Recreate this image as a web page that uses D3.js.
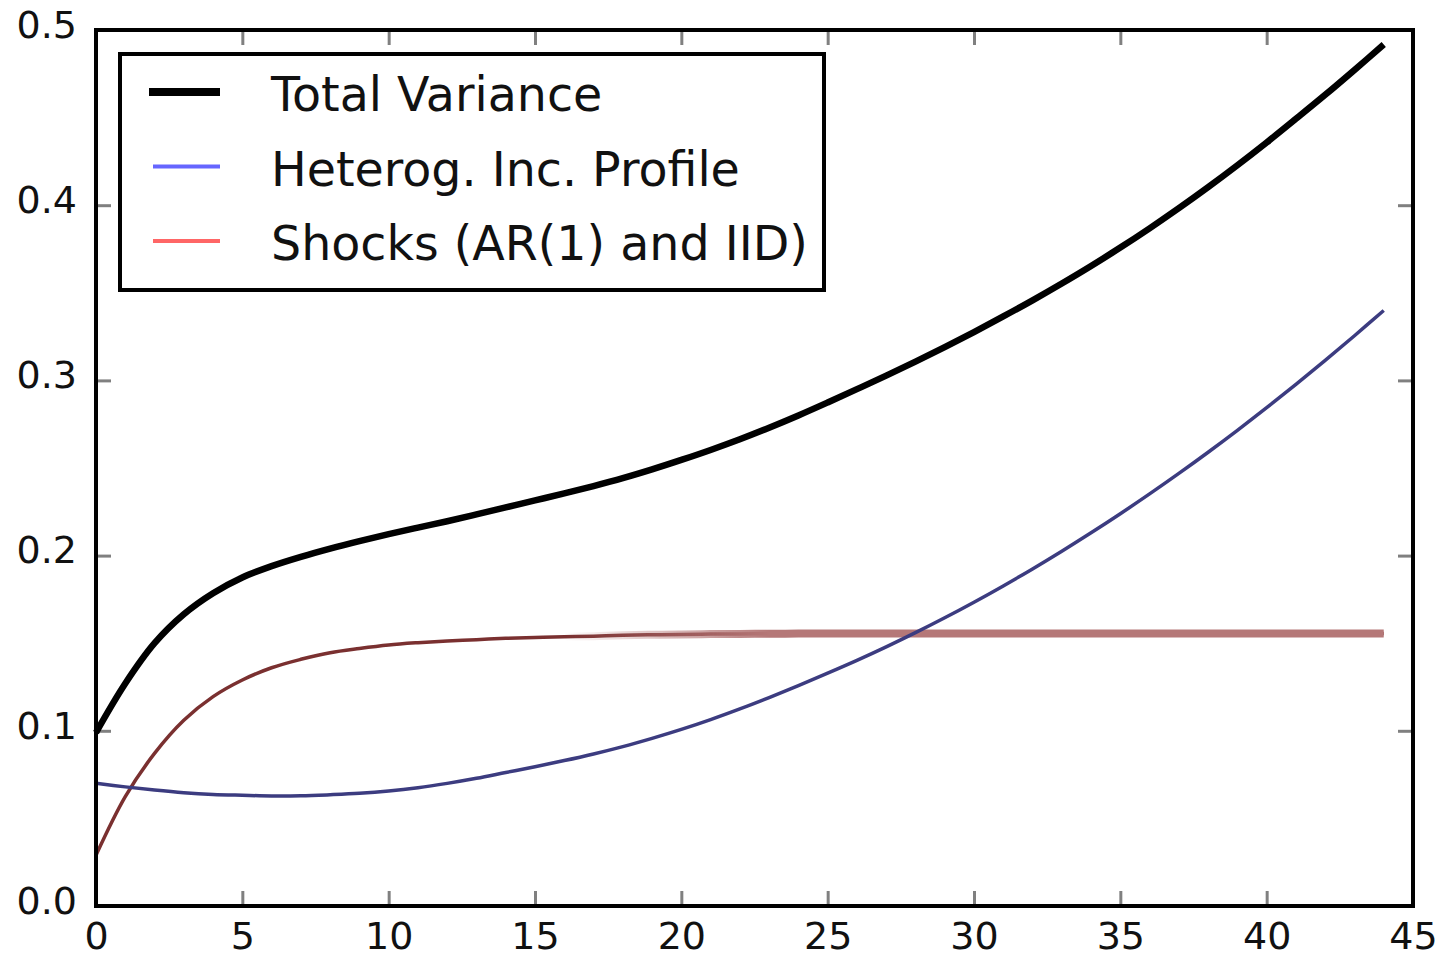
<!DOCTYPE html>
<html>
<head>
<meta charset="utf-8">
<script src="https://cdn.jsdelivr.net/npm/d3@7/dist/d3.min.js"></script>
<style>
  body { margin: 0; background: #fff; }
  svg { display: block; font-family: "DejaVu Sans", sans-serif; }
</style>
</head>
<body>
<div id="chart"></div>
<script>
// Data (age 0..44)
var ages = d3.range(0, 45);

var totalVariance = [0.099, 0.127, 0.150, 0.1665, 0.1785, 0.1875, 0.194, 0.1993, 0.204, 0.2083,
  0.2123, 0.216, 0.2196, 0.2235, 0.2275, 0.2315, 0.2355, 0.2397, 0.2442, 0.2492,
  0.2546, 0.2603, 0.2664, 0.2730, 0.2800, 0.2874, 0.2950, 0.3027, 0.3107, 0.3190,
  0.3276, 0.3365, 0.3457, 0.3553, 0.3653, 0.3758, 0.3868, 0.3983, 0.4103, 0.4228,
  0.4358, 0.4493, 0.4630, 0.4772, 0.4917];

var incomeProfile = [0.070, 0.068, 0.0662, 0.0647, 0.0637, 0.0632, 0.0628, 0.0629, 0.0635, 0.0643,
  0.0656, 0.0675, 0.0700, 0.0729, 0.0762, 0.0795, 0.0830, 0.0868, 0.0910, 0.0957,
  0.1008, 0.1064, 0.1125, 0.1190, 0.1258, 0.1329, 0.1402, 0.1479, 0.1560, 0.1645,
  0.1734, 0.1827, 0.1924, 0.2025, 0.2130, 0.2239, 0.2352, 0.2469, 0.2590, 0.2715,
  0.2844, 0.2977, 0.3114, 0.3255, 0.3399];

var shocks = [0.029, 0.0624, 0.0871, 0.106, 0.1195, 0.129, 0.136, 0.1408, 0.1446, 0.147,
  0.149, 0.1503, 0.1513, 0.152, 0.1528, 0.1533, 0.1537, 0.154, 0.1545, 0.1548,
  0.155, 0.1552, 0.1553, 0.1554, 0.1555, 0.1555, 0.1555, 0.1555, 0.1555, 0.1555,
  0.1555, 0.1555, 0.1555, 0.1555, 0.1555, 0.1555, 0.1555, 0.1555, 0.1555, 0.1555,
  0.1555, 0.1555, 0.1555, 0.1555, 0.1555];

var seriesNames = ["Total Variance", "Heterog. Inc. Profile", "Shocks (AR(1) and IID)"];
var xTicks = [0, 5, 10, 15, 20, 25, 30, 35, 40, 45];
var yTicks = [0.0, 0.1, 0.2, 0.3, 0.4, 0.5];

// Chart dimensions
var width = 1440, height = 958;
var plot = {left: 96, right: 1413, top: 30, bottom: 906};

var xScale = d3.scaleLinear().domain([0, 45]).range([plot.left, plot.right]);
var yScale = d3.scaleLinear().domain([0, 0.5]).range([plot.bottom, plot.top]);

var svg = d3.select("#chart").append("svg")
  .attr("width", width)
  .attr("height", height);

// Fade mask for the wide pale part of the shocks line
var defs = svg.append("defs");
var grad = defs.append("linearGradient")
  .attr("id", "fade")
  .attr("gradientUnits", "userSpaceOnUse")
  .attr("x1", xScale(16)).attr("x2", xScale(23))
  .attr("y1", 0).attr("y2", 0);
grad.append("stop").attr("offset", 0).attr("stop-color", "#fff").attr("stop-opacity", 0);
grad.append("stop").attr("offset", 1).attr("stop-color", "#fff").attr("stop-opacity", 1);
defs.append("mask").attr("id", "fadeMask")
  .attr("maskUnits", "userSpaceOnUse")
  .append("rect")
  .attr("x", 0).attr("y", 0).attr("width", width).attr("height", height)
  .attr("fill", "url(#fade)");

// Ticks on all four sides, pointing inward
svg.append("g")
  .attr("transform", "translate(0," + plot.bottom + ")")
  .call(d3.axisBottom(xScale).tickValues(xTicks).tickSizeInner(-15).tickSizeOuter(0).tickPadding(16).tickFormat(d3.format("d")));
svg.append("g")
  .attr("transform", "translate(0," + plot.top + ")")
  .call(d3.axisTop(xScale).tickValues(xTicks).tickSizeInner(-15).tickSizeOuter(0).tickFormat(""));
var yAxis = svg.append("g")
  .attr("transform", "translate(" + plot.left + ",0)")
  .call(d3.axisLeft(yScale).tickValues(yTicks).tickSizeInner(-15).tickSizeOuter(0).tickPadding(19).tickFormat(d3.format(".1f")));
yAxis.selectAll(".tick text").attr("dy", "0.19em");
svg.append("g")
  .attr("transform", "translate(" + plot.right + ",0)")
  .call(d3.axisRight(yScale).tickValues(yTicks).tickSizeInner(-15).tickSizeOuter(0).tickFormat(""));

svg.selectAll(".domain").remove();
svg.selectAll(".tick line").attr("stroke", "#808080").attr("stroke-width", 3);
svg.selectAll(".tick text")
  .attr("font-family", "DejaVu Sans")
  .attr("font-size", 38)
  .attr("fill", "#111");

// Lines
var line = function(values) {
  return d3.line()
    .x(function(d, i) { return xScale(ages[i]); })
    .y(function(d) { return yScale(d); })
    .curve(d3.curveCatmullRom)(values);
};

var lines = svg.append("g");

lines.append("path")
  .attr("d", line(shocks))
  .attr("fill", "none")
  .attr("stroke", "#7a3030")
  .attr("stroke-width", 3.5);

lines.append("path")
  .attr("d", line(shocks))
  .attr("fill", "none")
  .attr("stroke", "#b57878")
  .attr("stroke-width", 8)
  .attr("mask", "url(#fadeMask)");

lines.append("path")
  .attr("d", line(incomeProfile))
  .attr("fill", "none")
  .attr("stroke", "#3c3c80")
  .attr("stroke-width", 3.5);

lines.append("path")
  .attr("d", line(totalVariance))
  .attr("fill", "none")
  .attr("stroke", "#000")
  .attr("stroke-width", 6.5);

// Frame
svg.append("rect")
  .attr("x", plot.left).attr("y", plot.top)
  .attr("width", plot.right - plot.left)
  .attr("height", plot.bottom - plot.top)
  .attr("fill", "none")
  .attr("stroke", "#000")
  .attr("stroke-width", 4);

// Legend
var legendColors = ["#000", "#6666ff", "#ff6666"];
var legendWidths = [8, 4, 4];
var legend = svg.append("g");

legend.append("rect")
  .attr("x", 120).attr("y", 54)
  .attr("width", 704).attr("height", 236)
  .attr("fill", "#fff")
  .attr("stroke", "#000")
  .attr("stroke-width", 4);

var rows = legend.selectAll(".row")
  .data(seriesNames)
  .enter().append("g")
  .attr("class", "row")
  .attr("transform", function(d, i) { return "translate(0," + (111 + i * 74.5) + ")"; });

rows.append("line")
  .attr("x1", function(d, i) { return i === 0 ? 149 : 153; })
  .attr("x2", 220)
  .attr("y1", -19).attr("y2", -19)
  .attr("stroke", function(d, i) { return legendColors[i]; })
  .attr("stroke-width", function(d, i) { return legendWidths[i]; });

rows.append("text")
  .attr("x", 271)
  .attr("font-family", "DejaVu Sans")
  .attr("font-size", 47.5)
  .attr("fill", "#111")
  .text(function(d) { return d; });
</script>
</body>
</html>
